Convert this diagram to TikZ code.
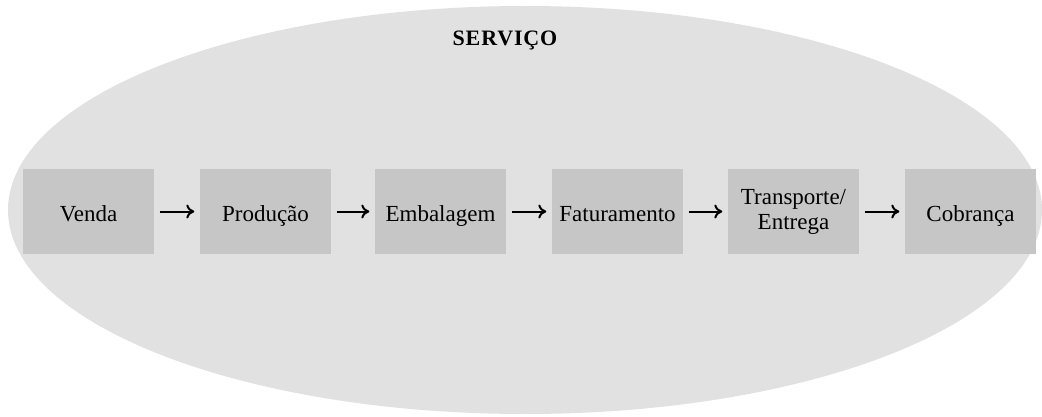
\documentclass[tikz,border=0pt]{standalone}
\usepackage{fontspec}
\setmainfont{Liberation Serif}
\usetikzlibrary{arrows.meta}
\definecolor{ellgray}{HTML}{E1E1E1}
\definecolor{boxgray}{HTML}{C6C6C6}
\begin{document}
\begin{tikzpicture}[x=1pt,y=-1pt,
  stepbox/.style={fill=boxgray, minimum width=131pt, minimum height=85pt,
    inner sep=0pt, align=center, font=\fontsize{23}{25}\selectfont},
  oneline/.style={text height=24pt, text depth=5pt},
  flow/.style={line width=2pt, shorten <=5.5pt, shorten >=5.5pt,
    -{To[length=8pt,width=14pt,line width=2pt]}}]
\useasboundingbox (0,0) rectangle (1042,417);
\begin{scope}
\clip (0,0) rectangle (1042,417);
\fill[ellgray] (525,210) ellipse [x radius=517, y radius=204];
\end{scope}
\node[font=\fontsize{22}{26}\selectfont\bfseries\addfontfeature{LetterSpace=4}] (title) at (505,40) {SERVIÇO};
\node[stepbox,oneline] (b1) at (88.5,211.5) {Venda};
\node[stepbox,oneline] (b2) at (265.5,211.5) {Produção};
\node[stepbox,oneline] (b3) at (440.5,211.5) {Embalagem};
\node[stepbox,oneline] (b4) at (617.5,211.5) {Faturamento};
\node[stepbox] (b5) at (793.5,211.5) {Transporte/\\Entrega};
\node[stepbox,oneline] (b6) at (970.5,211.5) {Cobrança};
\draw[flow] (b1) -- (b2);
\draw[flow] (b2) -- (b3);
\draw[flow] (b3) -- (b4);
\draw[flow] (b4) -- (b5);
\draw[flow] (b5) -- (b6);
\end{tikzpicture}
\end{document}
